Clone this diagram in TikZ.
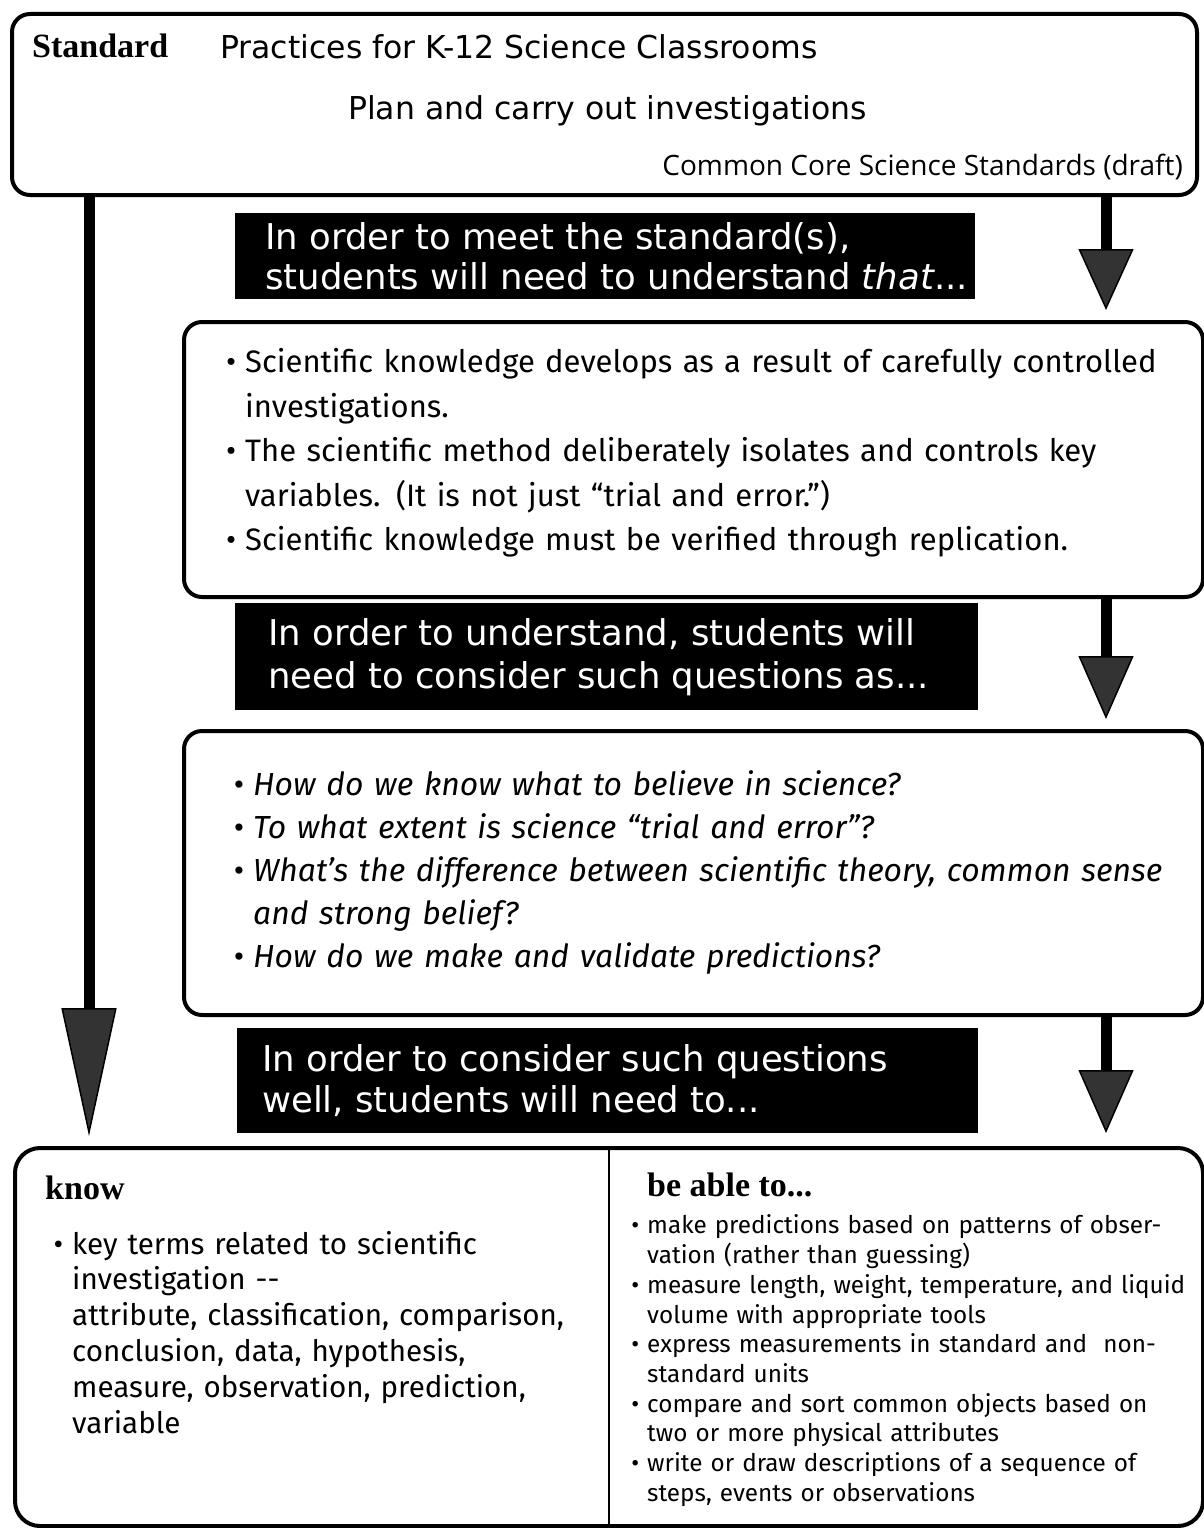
\documentclass[tikz,border=0pt]{standalone}
\usepackage{fontspec}
\usepackage{enumitem}
\setmainfont{Fira Sans}
\newfontfamily\headfont{DejaVu Sans}
\newfontfamily\serifbold{Liberation Serif}
\newfontfamily\notefont{Open Sans}
\usepackage{tikz}
\usetikzlibrary{positioning,arrows.meta}

\tikzset{
  roundbox/.style={draw,line width=4pt,rounded corners=18pt,anchor=north west,inner sep=0pt},
  blackbar/.style={fill=black,anchor=north west,inner sep=0pt},
  bartext/.style={text=white,inner sep=0pt,anchor=west,align=left,font=\headfont\fontsize{35.5}{#1}\selectfont},
  lbl/.style={inner sep=0pt},
  listtext/.style={inner sep=0pt,anchor=north west,align=left},
  fatarrow/.style={line width=11pt,
    -{Triangle[length=#1,width=55pt,line width=1.5pt,fill=black!80]}},
}
\newlist{bulletlist}{itemize}{1}
\setlist[bulletlist]{label=\textbullet,leftmargin=20pt,labelsep=9pt,itemsep=0pt,topsep=0pt,parsep=0pt,partopsep=0pt}

\begin{document}
\begin{tikzpicture}[x=1pt,y=-1pt]
		\useasboundingbox (0,0) rectangle (1203,1528);
		
		% frames
		\node[roundbox,minimum width=1185pt,minimum height=181pt] (top) at (10,12) {};
		\node[roundbox,minimum width=1019pt,minimum height=275pt] (under) at (182,320) {};
		\node[roundbox,minimum width=1019pt,minimum height=284pt] (quest) at (182,729) {};
		\node[roundbox,rounded corners=25pt,minimum width=1188pt,minimum height=378pt] (need) at (13,1146) {};
		
		% header texts
		\node[lbl,anchor=base west,font=\serifbold\bfseries\fontsize{34}{34}\selectfont]
		(stdlbl) at (32,58) {Standard};
		\node[lbl,anchor=base west,font=\headfont\fontsize{31.5}{31.5}\selectfont]
		(practices) at (220,59) {Practices for K-12 Science Classrooms};
		\node[lbl,anchor=base west,font=\headfont\fontsize{31.5}{31.5}\selectfont]
		(plan) at (348,119) {Plan and carry out investigations};
		\node[lbl,anchor=base east,font=\notefont\fontsize{28}{28}\selectfont]
		(ccss) at (1183,175) {Common Core Science Standards (draft)};
		
		% black bars
		\node[blackbar,minimum width=740pt,minimum height=86pt] (bar1) at (235,213) {};
		\node[bartext=40,right=30pt of bar1.west] (bar1txt)
		{In order to meet the standard(s),\\students will need to understand \textit{that}...};
		\node[blackbar,minimum width=743pt,minimum height=107pt] (bar2) at (235,603) {};
		\node[bartext=43,right=33pt of bar2.west] (bar2txt)
		{In order to understand, students will\\need to consider such questions as...};
		\node[blackbar,minimum width=741pt,minimum height=105pt] (bar3) at (237,1028) {};
		\node[bartext=41,right=25pt of bar3.west] (bar3txt)
		{In order to consider such questions\\well, students will need to...};
		
		% list texts
		\node[listtext,text width=980pt,font=\fontsize{31}{44.5}\selectfont] (ulist) at (214,328) {%
			\begin{bulletlist}[leftmargin=31pt]
				\item Scientific knowledge develops as a result of carefully controlled\\investigations.
				\item The scientific method deliberately isolates and controls key\\variables. (It is not just “trial and error.”)
				\item Scientific knowledge must be verified through replication.
			\end{bulletlist}};
		\node[listtext,text width=980pt,font=\fontsize{31.9}{43}\selectfont] (qlist) at (221,752) {%
			\begin{bulletlist}[leftmargin=32pt]
				\item \textit{How do we know what to believe in science?}
				\item \textit{To what extent is science “trial and error”?}
				\item \textit{What’s the difference between scientific theory, common sense}\\\textit{and strong belief?}
				\item \textit{How do we make and validate predictions?}
			\end{bulletlist}};
		
		\node[lbl,anchor=base west,font=\serifbold\bfseries\fontsize{34}{34}\selectfont]
		(know) at (45,1199) {know};
		\node[listtext,text width=560pt,font=\fontsize{29.6}{35.8}\selectfont] (klist) at (47,1218) {%
			\begin{bulletlist}[leftmargin=25pt]
				\item key terms related to scientific\\investigation -{}-\\attribute, classification, comparison,\\conclusion, data, hypothesis,\\measure, observation, prediction,\\variable
			\end{bulletlist}};
		
		\node[lbl,anchor=base west,font=\serifbold\bfseries\fontsize{34}{34}\selectfont]
		(able) at (647,1196) {be able to...};
		\node[listtext,text width=600pt,font=\fontsize{24.3}{29.7}\selectfont] (alist) at (624,1204) {%
			\begin{bulletlist}[leftmargin=23pt,labelsep=8pt]
				\item make predictions based on patterns of obser-\\vation (rather than guessing)
				\item measure length, weight, temperature, and liquid\\volume with appropriate tools
				\item express measurements in standard and \ non-\\standard units
				\item compare and sort common objects based on\\two or more physical attributes
				\item write or draw descriptions of a sequence of\\steps, events or observations
			\end{bulletlist}};
		
		% divider
		\coordinate (divx) at (609,0);
		\draw[line width=2pt] (need.north -| divx) -- (need.south -| divx);
		
		% arrows
		\coordinate (lx) at (89,0);
		\coordinate (rx) at (1106,0);
		\draw[fatarrow=128pt,shorten >=10pt] (top.south -| lx) -- (need.north -| lx);
		\draw[fatarrow=61pt,shorten >=10pt] (top.south -| rx) -- (under.north -| rx);
		\draw[fatarrow=63pt,shorten >=10pt] (under.south -| rx) -- (quest.north -| rx);
		\draw[fatarrow=63pt,shorten >=13pt] (quest.south -| rx) -- (need.north -| rx);
		
	\end{tikzpicture}
\end{document}
